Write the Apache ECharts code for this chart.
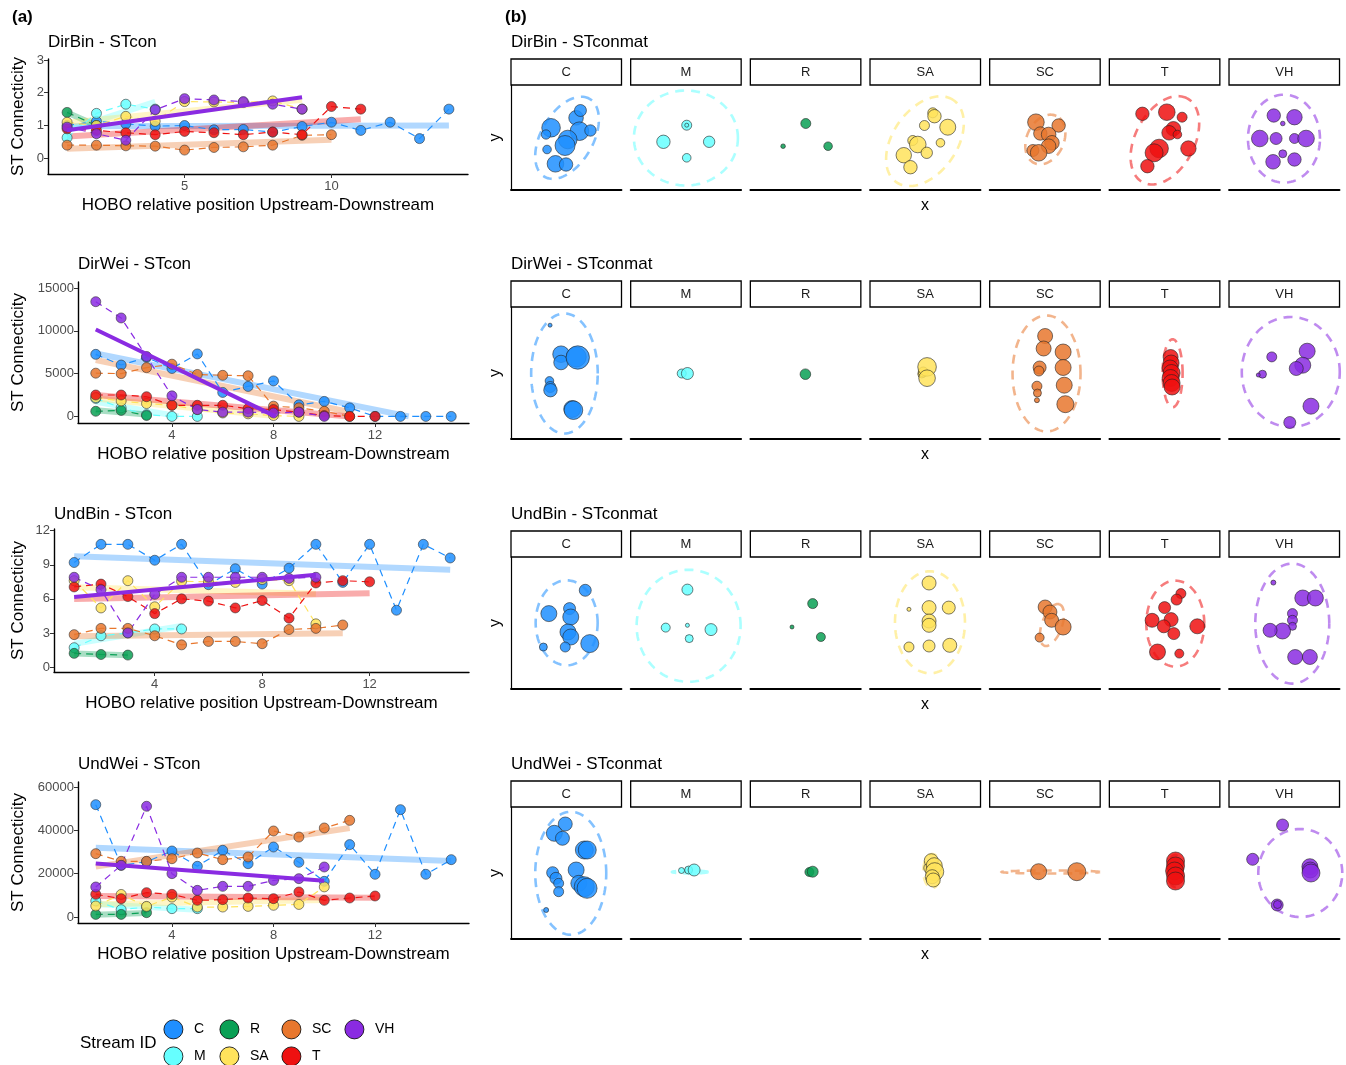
<!DOCTYPE html>
<html>
<head>
<meta charset="utf-8">
<script src="https://cdn.jsdelivr.net/npm/echarts@6/dist/echarts.min.js"></script>
<style>
html,body{margin:0;padding:0;background:#fff}
#chart{width:1346px;height:1065px}
</style>
</head>
<body>
<div id="chart"></div>
<script>
// ---------- streams ----------
const streamIds = ['C', 'M', 'R', 'SA', 'SC', 'T', 'VH'];
const streamColors = ['#1F8FFF', '#66FFFF', '#0AA055', '#FFE35C', '#E8772E', '#EE1111', '#8A2BE2'];

// ---------- (a) ST connectivity along HOBO positions (position 1..n) ----------
const dirBinC  = [1.0, 1.13, 1.05, 0.98, 1.0, 0.87, 0.88, 0.8, 0.97, 1.1, 0.85, 1.1, 0.6, 1.5];
const dirBinM  = [0.63, 1.37, 1.65, 1.5];
const dirBinR  = [1.4, 1.0];
const dirBinSA = [1.1, 1.0, 1.28, 1.13, 1.73, 1.72, 1.7, 1.75, 1.5];
const dirBinSC = [0.4, 0.4, 0.38, 0.37, 0.25, 0.33, 0.35, 0.4, 0.7, 0.72];
const dirBinT  = [0.9, 0.85, 0.78, 0.72, 0.82, 0.78, 0.72, 0.8, 0.72, 1.58, 1.5];
const dirBinVH = [0.95, 0.75, 0.55, 1.48, 1.82, 1.78, 1.73, 1.65, 1.5];

const dirWeiC  = [7250, 6000, 6900, 5600, 7300, 2800, 3500, 4150, 1350, 1750, 1000, 0, 0, 0, 0];
const dirWeiM  = [2100, 1000, 200, 0, 0];
const dirWeiR  = [600, 700, 100];
const dirWeiSA = [2200, 1800, 1500, 1300, 800, 400, 300, 100, 0];
const dirWeiSC = [5050, 5000, 5700, 6100, 4900, 4800, 4750, 1200, 1000, 600, 0];
const dirWeiT  = [2500, 2500, 2300, 1300, 1300, 1300, 900, 800, 500, 100, 0, 0];
const dirWeiVH = [13400, 11500, 7000, 2400, 800, 500, 500, 400, 500, 0];

const undBinC  = [9.2, 10.8, 10.8, 9.4, 10.8, 7.25, 8.65, 7.3, 8.7, 10.8, 7.45, 10.8, 5.0, 10.8, 9.6];
const undBinM  = [1.7, 2.75, 3.0, 3.35, 3.35];
const undBinR  = [1.2, 1.1, 1.05];
const undBinSA = [7.6, 5.2, 7.6, 5.3, 7.55, 7.5, 7.45, 7.7, 7.6, 3.8];
const undBinSC = [2.85, 3.4, 3.4, 2.75, 1.95, 2.25, 2.25, 2.05, 3.3, 3.4, 3.7];
const undBinT  = [7.05, 7.3, 6.2, 4.7, 6.0, 5.8, 5.2, 5.85, 4.3, 7.4, 7.6, 7.5];
const undBinVH = [7.9, 6.8, 3.0, 6.4, 7.9, 7.9, 7.9, 7.9, 7.8, 7.9];

const undWeiC  = [51850, 23850, 25500, 30460, 23400, 30770, 24600, 32300, 25230, 16460, 33400, 19700, 49540, 19700, 26460];
const undWeiM  = [7400, 3400, 4600, 3850, 3850];
const undWeiR  = [1200, 1200, 2000];
const undWeiSA = [5100, 10400, 4900, 9200, 4600, 4600, 4900, 5400, 5800, 13900];
const undWeiSC = [29230, 25700, 25700, 26900, 29540, 26460, 27700, 39700, 36900, 41080, 44600];
const undWeiT  = [10460, 8460, 11230, 10460, 7690, 8000, 8770, 8460, 11540, 7690, 8770, 9690];
const undWeiVH = [13850, 23850, 51100, 20000, 12300, 14150, 14150, 16900, 17700, 23080];

// tick labels
const xTicksDirBin = [5, 10];
const xTicksOther  = [4, 8, 12];
const yTicksDirBin = [0, 1, 2, 3];
const yTicksDirWei = [0, 5000, 10000, 15000];
const yTicksUndBin = [0, 3, 6, 9, 12];
const yTicksUndWei = [0, 20000, 40000, 60000];

// ---------- (b) STconmat ordination: [x, y, weight] per node ----------
const matDirBinC  = [[-1.52,0.97,9.3],[-2.02,0.3,4.7],[-1.92,-1.2,4.3],[0.98,1.97,7.3],[1.42,2.7,6],[1.32,0.63,9.3],[2.42,0.7,5.7],[0.15,-0.2,9.3],[-0.12,-0.8,10],[-1.08,-2.63,8.3],[-0.02,-2.7,6.7]];
const matDirBinM  = [[0.08,1.23,5],[0.08,1.23,2],[-2.25,-0.43,6.7],[2.32,-0.43,5.7],[0.08,-2.03,4.3]];
const matDirBinR  = [[0.02,1.4,5],[-2.25,-0.87,2.3],[2.25,-0.87,4.3]];
const matDirBinSA = [[0.75,2.47,5],[0.92,2.13,6.7],[-0.08,1.2,5],[2.25,1.03,8],[-1.25,-0.3,5],[-0.75,-0.7,8.3],[1.52,-0.53,4.3],[0.15,-1.53,5.7],[-2.15,-1.77,7.7],[-1.48,-2.97,6.7]];
const matDirBinSC = [[-0.9,1.53,8.3],[1.37,1.2,6.7],[-0.46,0.4,6.7],[0.37,0.3,7.3],[0.7,-0.53,7.3],[0.37,-0.87,7.3],[-1.2,-1.3,6],[-0.63,-1.53,8.3]];
const matDirBinT  = [[-2.22,2.37,6.7],[0.22,2.53,8.3],[1.75,2.03,5],[0.88,0.87,7.3],[0.45,0.47,7.3],[1.28,0.3,4.3],[-0.55,-1.1,9.3],[-1.05,-1.53,9],[2.38,-1.1,7.7],[-1.72,-2.87,6.7]];
const matDirBinVH = [[-1.05,2.2,6.7],[1.02,2.03,7.7],[-0.15,1.4,2.3],[-2.45,-0.1,8.3],[-0.82,-0.1,6],[1.02,-0.1,5],[2.18,-0.1,8.3],[-0.15,-1.63,4],[-1.12,-2.43,7.3],[1.02,-2.2,6.7]];

const matDirWeiC  = [[-1.62,4.78,2],[-0.52,1.88,8.3],[-0.52,1.05,7.3],[1.0,1.6,10],[1.15,1.55,11.7],[-1.68,-0.79,4.3],[-1.6,-1.4,5.5],[-1.58,-1.72,6.7],[0.6,-3.6,8.5],[0.72,-3.72,9.3]];
const matDirWeiM  = [[-0.42,-0.05,4.5],[0.15,-0.05,6]];
const matDirWeiR  = [[-0.02,-0.12,5.3]];
const matDirWeiSA = [[-0.35,-0.1,4],[-0.2,0.1,5],[0.18,0.61,9.3],[0.18,-0.52,8.3]];
const matDirWeiSC = [[0.02,3.7,7.5],[-0.13,2.45,7.5],[1.82,2.1,8],[-0.53,0.55,6.5],[1.82,0.55,8],[-0.6,0.2,5],[-0.8,-1.32,5],[-0.75,-2.0,4],[-0.8,-2.72,2.5],[1.93,-1.22,8],[2.04,-3.12,8.5]];
const matDirWeiT  = [[0.6,1.6,7.5],[0.65,1.0,8],[0.55,0.5,8],[0.7,0.0,8.5],[0.6,-0.5,8.5],[0.7,-1.0,8.5],[0.75,-1.4,8]];
const matDirWeiVH = [[2.29,2.18,8],[1.85,0.78,8],[1.2,0.45,7],[-1.25,1.61,5],[-2.18,-0.12,4],[-2.6,-0.2,2],[2.67,-3.32,8],[0.55,-4.95,6]];

const matUndBinC  = [[1.9,3.27,6],[-1.74,0.94,8],[0.33,1.44,6],[0.45,0.6,8],[0.17,-0.9,8],[0.45,-1.4,8],[2.35,-2.06,9],[-2.29,-2.4,4],[-0.1,-2.4,5]];
const matUndBinM  = [[0.15,3.34,5.5],[-2.02,-0.46,4.5],[0.15,-0.23,2],[2.51,-0.66,6],[0.33,-1.56,4]];
const matUndBinR  = [[0.71,1.94,5],[-1.36,-0.4,2],[1.53,-1.4,4.5]];
const matUndBinSA = [[0.38,4.0,7],[-1.63,1.37,2],[0.38,1.54,7],[2.35,1.54,6.5],[0.38,0.2,7],[0.38,-0.23,7],[-1.63,-2.4,5],[0.38,-2.3,6],[2.45,-2.23,7]];
const matUndBinSC = [[0.02,1.6,7],[0.5,1.1,7],[0.67,0.27,7],[1.82,-0.4,8],[-0.53,-1.46,4.5]];
const matUndBinT  = [[1.63,2.94,5],[1.2,2.34,5.5],[0.0,1.54,6],[-1.25,0.27,7],[0.65,0.34,7],[-0.08,-0.33,6.5],[0.92,-1.06,6],[3.27,-0.33,7.5],[-0.71,-2.9,8],[1.47,-3.06,4.5]];
const matUndBinVH = [[-1.09,4.04,2.5],[1.85,2.5,8],[3.11,2.5,8],[0.82,0.94,5],[0.82,0.27,5],[0.82,-0.33,4],[-0.17,-0.8,8],[-1.42,-0.73,7],[1.09,-3.4,7.5],[2.56,-3.4,7.5]];

const matUndWeiC  = [[-0.1,4.9,7],[-1.19,3.97,8],[-0.38,3.47,7],[1.81,2.3,9],[2.1,2.3,9],[0.99,0.3,8],[-1.36,0.03,6],[-1.03,-0.53,6],[-0.76,-1.03,5],[-0.76,-1.87,5],[1.26,-1.03,8],[1.8,-1.37,10],[2.08,-1.53,10],[-2.01,-3.7,2.5]];
const matUndWeiM  = [[-0.44,0.25,3],[0.27,0.3,4],[0.82,0.3,6]];
const matUndWeiR  = [[0.38,0.1,4.5],[0.71,0.13,5.5]];
const matUndWeiSA = [[0.45,0.5,6],[0.6,1.23,7],[0.9,0.73,8],[0.95,0.13,9],[0.7,-0.37,7],[0.8,-0.7,7]];
const matUndWeiSC = [[-0.63,0.13,8],[3.19,0.13,9]];
const matUndWeiT  = [[1.09,1.2,9],[1.09,0.7,9],[1.0,0.2,9],[1.1,-0.3,9],[1.09,-0.8,9]];
const matUndWeiVH = [[-0.17,4.8,6],[-3.16,1.37,6],[2.56,0.63,8],[2.6,0.3,8],[2.67,0.0,9],[-0.71,-3.2,6],[-0.68,-3.15,4]];

// 95% ellipses: [cx, cy, semi-axis a, semi-axis b, angle in degrees]
const ellDirBin = [[0.08,-0.03,4.5,2.6,60],[0,-0.05,5.2,4.75,0],null,[-0.03,-0.37,5.0,3.2,55],[0.04,-0.2,2.6,1.85,65],[0.03,-0.28,4.75,2.95,62],[-0.03,-0.12,3.6,4.4,0]];
const ellDirWei = [[-0.18,-0.05,3.33,6.0,0],null,null,null,[0.16,-0.05,3.4,5.8,0],[0.8,-0.03,1.0,3.4,0],[0.65,0.1,4.9,5.5,0]];
const ellUndBin = [[0.04,0.02,3.1,4.25,0],[0.27,-0.28,5.2,5.6,0],null,[0.47,0.07,3.5,5.1,0],[0.7,-0.2,2.2,1.0,70],[1.07,-0.06,2.9,4.3,0],[0.8,-0.06,3.7,6.0,0]];
const ellUndWei = [[0.45,-0.03,3.55,6.15,0],[0.4,0.1,1.8,0.15,0],null,[0.7,0.2,0.9,1.7,0],[0.57,0.1,4.9,0.15,0],[1.05,0.2,0.7,1.6,0],[1.6,0.0,4.2,4.4,0]];

// ---------- layout ----------
const FONT = '"Liberation Sans", Arial, Helvetica, sans-serif';
const leftPanels = [
  {title: 'DirBin - STcon', titleY: 41, box: [48, 59, 420, 115], x: [0.35, 14.65], y: [-0.48, 3.03], xt: xTicksDirBin, yt: yTicksDirBin,
   vals: [dirBinC, dirBinM, dirBinR, dirBinSA, dirBinSC, dirBinT, dirBinVH]},
  {title: 'DirWei - STcon', titleY: 263, box: [78, 282, 391, 141], x: [0.3, 15.7], y: [-770, 15700], xt: xTicksOther, yt: yTicksDirWei,
   vals: [dirWeiC, dirWeiM, dirWeiR, dirWeiSA, dirWeiSC, dirWeiT, dirWeiVH]},
  {title: 'UndBin - STcon', titleY: 513, box: [54, 529, 415, 143], x: [0.25, 15.7], y: [-0.44, 12.15], xt: xTicksOther, yt: yTicksUndBin,
   vals: [undBinC, undBinM, undBinR, undBinSA, undBinSC, undBinT, undBinVH]},
  {title: 'UndWei - STcon', titleY: 763, box: [78, 782, 391, 141], x: [0.3, 15.7], y: [-2770, 62300], xt: xTicksOther, yt: yTicksUndWei,
   vals: [undWeiC, undWeiM, undWeiR, undWeiSA, undWeiSC, undWeiT, undWeiVH]}
];
const rightRows = [
  {title: 'DirBin - STconmat', titleY: 41, top: 85, h: 105, strip: 59,
   mats: [matDirBinC, matDirBinM, matDirBinR, matDirBinSA, matDirBinSC, matDirBinT, matDirBinVH], ells: ellDirBin},
  {title: 'DirWei - STconmat', titleY: 263, top: 307, h: 132, strip: 281,
   mats: [matDirWeiC, matDirWeiM, matDirWeiR, matDirWeiSA, matDirWeiSC, matDirWeiT, matDirWeiVH], ells: ellDirWei},
  {title: 'UndBin - STconmat', titleY: 513, top: 557, h: 132, strip: 531,
   mats: [matUndBinC, matUndBinM, matUndBinR, matUndBinSA, matUndBinSC, matUndBinT, matUndBinVH], ells: ellUndBin},
  {title: 'UndWei - STconmat', titleY: 763, top: 807, h: 132, strip: 781,
   mats: [matUndWeiC, matUndWeiM, matUndWeiR, matUndWeiSA, matUndWeiSC, matUndWeiT, matUndWeiVH], ells: ellUndWei}
];
const facetLeft0 = 511, facetStep = 119.67, facetW = 110.5, stripH = 26;

function rgba(hex, a) {
  const n = parseInt(hex.slice(1), 16);
  return `rgba(${(n >> 16) & 255},${(n >> 8) & 255},${n & 255},${a})`;
}

// least-squares line over positions 1..n; fitted values below 0 are dropped
function fitLine(vals) {
  const n = vals.length;
  let mx = 0, my = 0;
  vals.forEach((v, i) => { mx += i + 1; my += v; });
  mx /= n; my /= n;
  let sxy = 0, sxx = 0;
  vals.forEach((v, i) => { sxy += (i + 1 - mx) * (v - my); sxx += (i + 1 - mx) ** 2; });
  const b = sxx ? sxy / sxx : 0, a = my - b * mx;
  const f = x => a + b * x;
  let x0 = 1, x1 = n;
  if (f(x1) < 0) x1 = -a / b;
  if (f(x0) < 0) x0 = -a / b;
  return [[x0, f(x0)], [x1, f(x1)]];
}

const grid = [], xAxis = [], yAxis = [], series = [], title = [], graphics = [];
const tickStyle = {color: '#4D4D4D', fontSize: 13, fontFamily: FONT};
const titleStyle = {fontSize: 17, fontWeight: 'normal', color: '#000', fontFamily: FONT};
const axisNameStyle = {fontSize: 17, color: '#000', fontFamily: FONT};

// panel (a)
leftPanels.forEach((p, gi) => {
  grid.push({left: p.box[0], top: p.box[1], width: p.box[2], height: p.box[3]});
  const yGap = p.box[0] - 27;
  xAxis.push({
    gridIndex: gi, type: 'value', min: p.x[0], max: p.x[1],
    name: 'HOBO relative position Upstream-Downstream', nameLocation: 'middle', nameGap: 23,
    nameTextStyle: axisNameStyle,
    axisLine: {onZero: false, lineStyle: {color: '#000', width: 1.4}},
    axisTick: {length: 4, lineStyle: {color: '#333'}, customValues: p.xt},
    axisLabel: Object.assign({customValues: p.xt, margin: 6}, tickStyle),
    splitLine: {show: false}
  });
  yAxis.push({
    gridIndex: gi, type: 'value', min: p.y[0], max: p.y[1],
    name: 'ST Connecticity', nameLocation: 'middle', nameGap: yGap, nameRotate: 90,
    nameTextStyle: axisNameStyle,
    axisLine: {onZero: false, lineStyle: {color: '#000', width: 1.4}},
    axisTick: {length: 4, lineStyle: {color: '#333'}, customValues: p.yt},
    axisLabel: Object.assign({customValues: p.yt, margin: 4, formatter: v => String(v)}, tickStyle),
    splitLine: {show: false}
  });
  title.push({text: p.title, left: p.box[0] - 5, top: p.titleY - 12, textStyle: titleStyle});
  p.vals.forEach((vals, si) => {
    const col = streamColors[si];
    const isVH = streamIds[si] === 'VH';
    series.push({
      name: streamIds[si] + ' fit', type: 'line', xAxisIndex: gi, yAxisIndex: gi,
      data: fitLine(vals), showSymbol: false, silent: true, z: isVH ? 4 : 1,
      lineStyle: {color: col, width: isVH ? 4 : 6, opacity: isVH ? 1 : 0.35, cap: 'butt'}
    });
  });
  p.vals.forEach((vals, si) => {
    const col = streamColors[si];
    series.push({
      name: streamIds[si], type: 'line', xAxisIndex: gi, yAxisIndex: gi,
      data: vals.map((v, i) => [i + 1, v]), symbol: 'circle', symbolSize: 10, z: 3,
      lineStyle: {color: col, width: 1.2, type: [7, 5]},
      itemStyle: {color: col, borderColor: '#333', borderWidth: 0.7, opacity: 0.85}
    });
  });
});

// panel (b)
function ellipseRenderer(col) {
  return function (params, api) {
    const c = api.coord([api.value(0), api.value(1)]);
    const s = api.size([1, 1]);
    const a = api.value(2), b = api.value(3), th = api.value(4) * Math.PI / 180;
    const pts = [];
    for (let k = 0; k <= 96; k++) {
      const t = k / 96 * Math.PI * 2;
      const ex = a * Math.cos(t), ey = b * Math.sin(t);
      const rx = ex * Math.cos(th) - ey * Math.sin(th);
      const ry = ex * Math.sin(th) + ey * Math.cos(th);
      pts.push([c[0] + rx * s[0], c[1] - ry * s[1]]);
    }
    return {type: 'polyline', shape: {points: pts},
      style: {stroke: rgba(col, 0.55), fill: null, lineWidth: 2.6, lineDash: [9, 7]}};
  };
}

rightRows.forEach((row, ri) => {
  title.push({text: row.title, left: facetLeft0 - 5, top: row.titleY - 12, textStyle: titleStyle});
  const hy = row.h / 20, hx = facetW / 20;
  streamIds.forEach((sid, si) => {
    const gi = grid.length;
    const left = facetLeft0 + si * facetStep;
    grid.push({left: left, top: row.top, width: facetW, height: row.h});
    xAxis.push({gridIndex: gi, type: 'value', min: -hx, max: hx,
      axisLine: {show: true, onZero: false, lineStyle: {color: '#000', width: 1.8}},
      axisTick: {show: false}, axisLabel: {show: false}, splitLine: {show: false}});
    yAxis.push({gridIndex: gi, type: 'value', min: -hy, max: hy,
      axisLine: {show: si === 0, onZero: false, lineStyle: {color: '#000', width: 1.2}},
      axisTick: {show: false}, axisLabel: {show: false}, splitLine: {show: false}});
    const col = streamColors[si];
    const ell = row.ells[si];
    if (ell) {
      series.push({name: sid + ' ellipse', type: 'custom', xAxisIndex: gi, yAxisIndex: gi,
        renderItem: ellipseRenderer(col), data: [ell], silent: true, z: 1, clip: false});
    }
    series.push({name: sid, type: 'scatter', xAxisIndex: gi, yAxisIndex: gi, z: 2,
      data: row.mats[si], symbolSize: v => v[2] * 2,
      itemStyle: {color: col, opacity: 0.85, borderColor: '#222', borderWidth: 0.7}});
    // facet strip
    graphics.push({type: 'rect', shape: {x: left, y: row.strip, width: facetW, height: stripH},
      style: {fill: '#fff', stroke: '#000', lineWidth: 1.3}, silent: true});
    graphics.push({type: 'text', x: left + facetW / 2, y: row.strip + stripH / 2,
      style: {text: sid, fontSize: 13, fill: '#1A1A1A', fontFamily: FONT, align: 'center', verticalAlign: 'middle'}, silent: true});
  });
  graphics.push({type: 'text', x: 496, y: row.top + row.h / 2, rotation: Math.PI / 2,
    style: {text: 'y', fontSize: 16, fill: '#000', fontFamily: FONT, align: 'center', verticalAlign: 'middle'}, silent: true});
  graphics.push({type: 'text', x: 925, y: row.top + row.h + 16,
    style: {text: 'x', fontSize: 16, fill: '#000', fontFamily: FONT, align: 'center', verticalAlign: 'middle'}, silent: true});
});

// panel tags
title.push({text: '(a)', left: 7, top: 4, textStyle: {fontSize: 17, fontWeight: 'bold', color: '#000', fontFamily: FONT}});
title.push({text: '(b)', left: 500, top: 4, textStyle: {fontSize: 17, fontWeight: 'bold', color: '#000', fontFamily: FONT}});

// legend: two rows of keys, column aligned
const legendKeys = [
  {id: 'C', cx: 179, cy: 1029}, {id: 'R', cx: 235, cy: 1029}, {id: 'SC', cx: 297, cy: 1029}, {id: 'VH', cx: 360, cy: 1029},
  {id: 'M', cx: 179, cy: 1056}, {id: 'SA', cx: 235, cy: 1056}, {id: 'T', cx: 297, cy: 1056}
];
const legend = legendKeys.map(k => ({
  data: [k.id], left: k.cx - 15.5, top: k.cy - 9.5, padding: 0, icon: 'circle',
  itemWidth: 31, itemHeight: 19, selectedMode: false,
  itemStyle: {borderColor: '#000', borderWidth: 0.8, opacity: 1},
  textStyle: {fontSize: 14, color: '#000', fontFamily: FONT}
}));
graphics.push({type: 'text', x: 80, y: 1043,
  style: {text: 'Stream ID', fontSize: 17, fill: '#000', fontFamily: FONT, align: 'left', verticalAlign: 'middle'}, silent: true});

const chart = echarts.init(document.getElementById('chart'), null, {renderer: 'canvas'});
chart.setOption({
  backgroundColor: '#fff',
  animation: false,
  textStyle: {fontFamily: FONT},
  title: title,
  legend: legend,
  grid: grid,
  xAxis: xAxis,
  yAxis: yAxis,
  series: series,
  graphic: {elements: graphics}
});
</script>
</body>
</html>
